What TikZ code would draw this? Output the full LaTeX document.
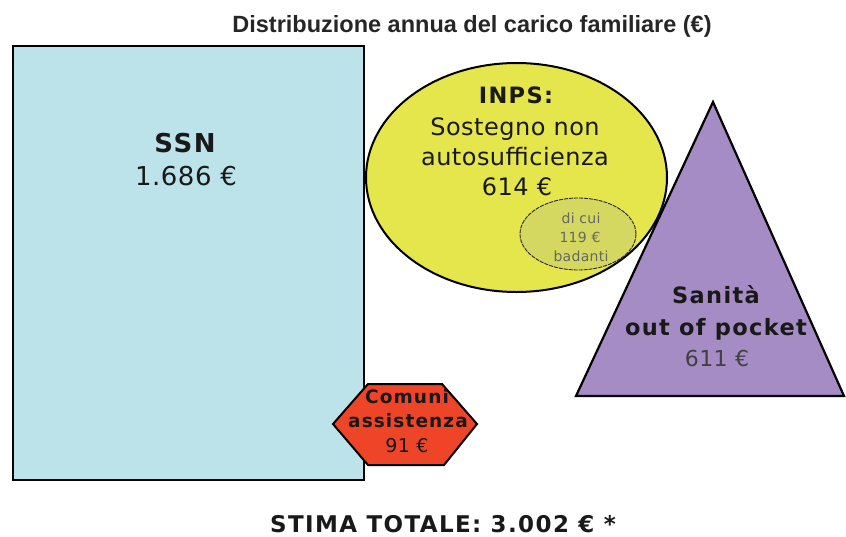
\documentclass[tikz,border=0pt]{standalone}
\usepackage{fontspec}
\setmainfont{DejaVu Sans}[LetterSpace=2, BoldFeatures={LetterSpace=6}]
\newfontfamily\titlefont{Liberation Sans}
\usepackage{xcolor}
\usepackage{tikz}
\usetikzlibrary{shapes.geometric}
\definecolor{ssnblue}{RGB}{189,227,234}
\definecolor{inpsyellow}{RGB}{229,229,76}
\definecolor{badgreen}{RGB}{212,216,96}
\definecolor{ooppurple}{RGB}{166,140,196}
\definecolor{comred}{RGB}{238,68,40}
\tikzset{
    tnode/.style = {align=center, inner sep=0pt, anchor=base, text=black!90},
    big/.style = {tnode, font=\fontsize{26}{30}\selectfont},
    bigb/.style = {tnode, font=\fontsize{26}{30}\selectfont\bfseries},
    mid/.style = {tnode, font=\fontsize{24}{28}\selectfont},
    midb/.style = {tnode, font=\fontsize{22.5}{26}\selectfont\bfseries},
    sml/.style = {tnode, font=\fontsize{19}{22}\selectfont},
    smlb/.style = {tnode, font=\fontsize{18.5}{22}\selectfont\bfseries},
    tiny/.style = {tnode, font=\fontsize{14}{16}\selectfont, text=black!60},
    ssn_box/.style = {rectangle, draw=black, fill=ssnblue, line width=2.5pt, minimum width=351pt, minimum height=434pt, inner sep=0pt},
    inps_ell/.style = {ellipse, draw=black, fill=inpsyellow, line width=2pt, minimum width=301pt, minimum height=229pt, inner sep=0pt},
    bad_ell/.style = {ellipse, draw=black!85, fill=badgreen, dashed, dash pattern=on 4pt off 1pt, line width=0.9pt, minimum width=116pt, minimum height=72pt, inner sep=0pt},
    oop_tri/.style = {draw=black, fill=ooppurple, line width=2.2pt, line join=miter},
    com_hex/.style = {draw=black, fill=comred, line width=2pt}
}
\begin{document}
\begin{tikzpicture}[x=1pt, y=-1pt]
    \useasboundingbox (0,0) rectangle (846,536);
    % titolo
    \node [tnode, font=\titlefont\fontsize{23.5}{26}\selectfont\bfseries, text=black!85] (title) at (472,32) {Distribuzione annua del carico familiare (€)};
    % SSN
    \node [ssn_box] (ssn) at (188.5,263) {};
    \node [bigb] (ssnname) at (185,152) {SSN};
    \node [big] (ssnval) at (186,185) {1.686 €};
    % INPS
    \node [inps_ell] (inps) at (516.5,177.5) {};
    \node [midb] (inpsname) at (516,103) {INPS:};
    \node [mid] (inps1) at (515,135) {Sostegno non};
    \node [mid] (inps2) at (515,165) {autosufficienza};
    \node [mid] (inpsval) at (517,195) {614 €};
    \node [bad_ell] (badanti) at (578,234) {};
    \node [tiny] (bad1) at (581,223) {di cui};
    \node [tiny] (bad2) at (580,242) {119 €};
    \node [tiny] (bad3) at (581,261) {badanti};
    % sanita out of pocket
    \coordinate (apex) at (713,102);
    \coordinate (bl) at (576,396);
    \coordinate (br) at (844,396);
    \draw [oop_tri] (apex) -- (bl) -- (br) -- cycle;
    \node [midb] (oop1) at (716,303) {Sanità};
    \node [midb] (oop2) at (716,335) {out of pocket};
    \node [tnode, font=\fontsize{22}{26}\selectfont, text=black!75] (oopval) at (717,366) {611 €};
    % comuni
    \coordinate (h1) at (333,424);
    \coordinate (h2) at (368,384);
    \coordinate (h3) at (442,384);
    \coordinate (h4) at (477,424);
    \coordinate (h5) at (444,465);
    \coordinate (h6) at (368,465);
    \draw [com_hex] (h1) -- (h2) -- (h3) -- (h4) -- (h5) -- (h6) -- cycle;
    \node [smlb] (com1) at (407,403) {Comuni};
    \node [smlb] (com2) at (408,427) {assistenza};
    \node [sml] (comval) at (407,452) {91 €};
    % totale
    \node [tnode, font=\fontsize{23}{26}\selectfont\bfseries] (total) at (443,532) {STIMA TOTALE: 3.002 € *};
\end{tikzpicture}
\end{document}
